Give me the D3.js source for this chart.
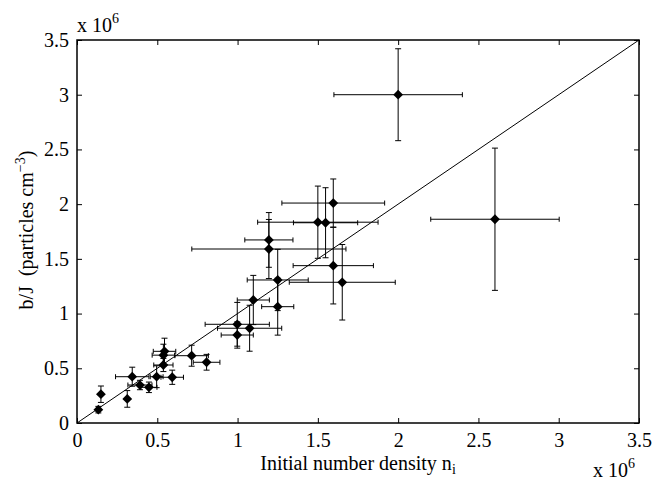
<!DOCTYPE html>
<html>
<head>
<meta charset="utf-8">
<script src="https://cdn.jsdelivr.net/npm/d3@7"></script>
<style>
  body { margin: 0; background: #fff; }
  text { font-family: "Liberation Serif", "Times New Roman", serif; fill: #000; }
</style>
</head>
<body>
<svg id="chart" width="653" height="484"></svg>
<script>
// values in units of 10^6
var nInit    = [0.133, 0.149, 0.313, 0.344, 0.392, 0.448, 0.496, 0.538, 0.538, 0.545, 0.593, 0.714, 0.807,
                0.998, 0.998, 1.075, 1.098, 1.195, 1.195, 1.25, 1.25, 1.5, 1.548, 1.596, 1.596, 1.652, 2.0, 2.603];
var nInitErr = [0, 0, 0, 0.104, 0.075, 0.05, 0.04, 0.06, 0.07, 0.07, 0.07, 0.104, 0.083,
                0.2, 0.1, 0.2, 0.1, 0.48, 0.15, 0.19, 0.1, 0.375, 0.2, 0.32, 0.25, 0.33, 0.4, 0.4];
var bJ       = [0.122, 0.263, 0.22, 0.423, 0.347, 0.326, 0.423, 0.53, 0.62, 0.655, 0.418, 0.615, 0.555,
                0.902, 0.804, 0.866, 1.124, 1.59, 1.673, 1.307, 1.063, 1.835, 1.83, 2.01, 1.438, 1.286, 3.0, 1.862];
var bJErr    = [0.03, 0.075, 0.076, 0.087, 0.043, 0.048, 0.1, 0.06, 0.1, 0.12, 0.065, 0.096, 0.072,
                0.2, 0.12, 0.21, 0.225, 0.27, 0.25, 0.28, 0.26, 0.33, 0.32, 0.22, 0.35, 0.345, 0.42, 0.65];
var tickVals = [0, 0.5, 1, 1.5, 2, 2.5, 3, 3.5];

var data = nInit.map(function(d, i) {
  return {x: d, xe: nInitErr[i], y: bJ[i], ye: bJErr[i]};
});

var svg = d3.select("#chart");
var pad = {left: 77, right: 639, top: 40, bottom: 423};

var xScale = d3.scaleLinear().domain([0, 3.5]).range([pad.left, pad.right]);
var yScale = d3.scaleLinear().domain([0, 3.5]).range([pad.bottom, pad.top]);

var fmt = d3.format("");

// axes, ticks pointing inward
svg.append("g")
  .attr("transform", "translate(0," + pad.bottom + ")")
  .call(d3.axisBottom(xScale).tickValues(tickVals).tickFormat(fmt).tickSizeInner(-5).tickSizeOuter(0).tickPadding(10));
svg.append("g")
  .attr("transform", "translate(" + pad.left + ",0)")
  .call(d3.axisLeft(yScale).tickValues(tickVals).tickFormat(fmt).tickSizeInner(-5).tickSizeOuter(0).tickPadding(8));
svg.append("g")
  .attr("transform", "translate(0," + pad.top + ")")
  .call(d3.axisTop(xScale).tickValues(tickVals).tickFormat("").tickSizeInner(-5).tickSizeOuter(0));
svg.append("g")
  .attr("transform", "translate(" + pad.right + ",0)")
  .call(d3.axisRight(yScale).tickValues(tickVals).tickFormat("").tickSizeInner(-5).tickSizeOuter(0));

svg.selectAll(".domain").remove();
svg.selectAll(".tick line").attr("stroke", "#000");
svg.selectAll(".tick text").style("font-size", "20px").attr("fill", "#000");

svg.append("rect")
  .attr("x", pad.left).attr("y", pad.top)
  .attr("width", pad.right - pad.left).attr("height", pad.bottom - pad.top)
  .attr("fill", "none").attr("stroke", "#000").attr("stroke-width", 1.5);

// y = x reference line
svg.append("line")
  .attr("x1", xScale(0)).attr("y1", yScale(0))
  .attr("x2", xScale(3.5)).attr("y2", yScale(3.5))
  .attr("stroke", "#000").attr("stroke-width", 1);

// error bars
var eb = svg.append("g").attr("stroke", "#000").attr("stroke-width", 1).attr("fill", "none");
data.forEach(function(d) {
  var cx = xScale(d.x), cy = yScale(d.y);
  if (d.ye > 0) {
    var y0 = yScale(d.y - d.ye), y1 = yScale(d.y + d.ye);
    eb.append("path").attr("d",
      "M" + cx + "," + y0 + "V" + y1 +
      "M" + (cx - 3) + "," + y0 + "H" + (cx + 3) +
      "M" + (cx - 3) + "," + y1 + "H" + (cx + 3));
  }
  if (d.xe > 0) {
    var x0 = xScale(d.x - d.xe), x1 = xScale(d.x + d.xe);
    eb.append("path").attr("d",
      "M" + x0 + "," + cy + "H" + x1 +
      "M" + x0 + "," + (cy - 2.5) + "V" + (cy + 2.5) +
      "M" + x1 + "," + (cy - 2.5) + "V" + (cy + 2.5));
  }
});

// diamond markers
svg.append("g").selectAll("path")
  .data(data)
  .enter()
  .append("path")
  .attr("d", d3.symbol(d3.symbolSquare, 48))
  .attr("transform", function(d) {
    return "translate(" + xScale(d.x) + "," + yScale(d.y) + ") rotate(45)";
  })
  .attr("fill", "#000");

// labels
svg.append("text")
  .attr("x", (pad.left + pad.right) / 2).attr("y", 470)
  .attr("text-anchor", "middle").style("font-size", "20px")
  .text("Initial number density n")
  .append("tspan").attr("dy", 4).style("font-size", "14px").text("i");

var yl = svg.append("text")
  .attr("transform", "translate(33,230) rotate(-90)")
  .attr("text-anchor", "middle").style("font-size", "20px")
  .style("white-space", "pre");
yl.append("tspan").text("b/J  (particles cm");
yl.append("tspan").attr("dy", -8).style("font-size", "14px").text("\u22123");
yl.append("tspan").attr("dy", 8).text(")");

function expLabel(x, y) {
  var t = svg.append("text").attr("x", x).attr("y", y).style("font-size", "20px");
  t.append("tspan").text("x 10");
  t.append("tspan").attr("dy", -9).style("font-size", "14px").text("6");
}
expLabel(77, 32);
expLabel(593, 477);
</script>
</body>
</html>
